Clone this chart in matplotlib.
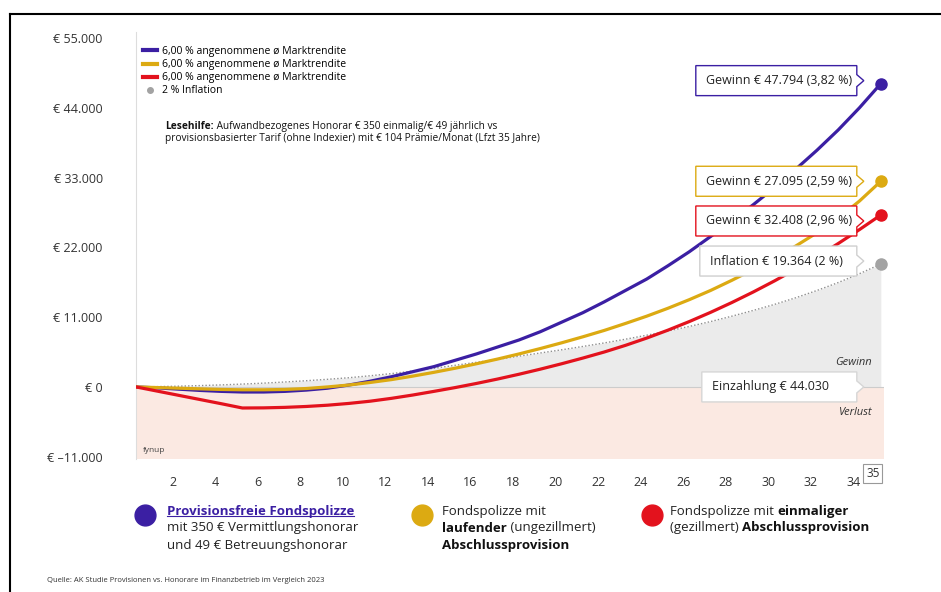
import numpy as np
import matplotlib
matplotlib.use("Agg")
import matplotlib.pyplot as plt
import matplotlib.transforms as mtransforms
from matplotlib.lines import Line2D
from matplotlib.patches import Polygon

plt.rcParams['font.family'] = ['Open Sans', 'DejaVu Sans']

# --- data ---
years = list(range(0, 36))
honorar = [0, -150, -350, -550, -700, -800, -800, -700, -500, -200, 300,
           900, 1600, 2400, 3200, 4200, 5200, 6300, 7400, 8700, 10200,
           11700, 13400, 15200, 17000, 19100, 21300, 23700, 26100, 28700, 31400,
           34300, 37300, 40500, 44000, 47794]
laufend = [0, -100, -200, -300, -400, -450, -450, -400, -250, 0, 300,
           700, 1150, 1700, 2300, 2950, 3650, 4400, 5200, 6050, 6950,
           7900, 8900, 10000, 11150, 12400, 13750, 15200, 16800, 18500, 20300,
           22200, 24300, 26600, 29300, 32408]
einmalig = [0, -660, -1320, -1980, -2640, -3320, -3300, -3220, -3080, -2880, -2600,
            -2250, -1800, -1280, -700, -100, 550, 1250, 2000, 2800, 3650,
            4550, 5500, 6550, 7700, 8950, 10300, 11750, 13300, 14950, 16700,
            18550, 20500, 22600, 24800, 27095]
inflation = [0, 50, 120, 210, 320, 450, 600, 780, 980, 1200, 1450,
             1760, 2100, 2500, 2940, 3410, 3880, 4350, 4850, 5350, 5850,
             6380, 6930, 7520, 8150, 8820, 9530, 10300, 11150, 12050, 13000,
             14050, 15200, 16450, 17850, 19364]

y_ticks = [-11000, 0, 11000, 22000, 33000, 44000, 55000]
y_labels = ['€ –11.000', '€ 0', '€ 11.000', '€ 22.000', '€ 33.000', '€ 44.000', '€ 55.000']
x_ticks = list(range(2, 35, 2))

legend_labels = ['6,00 % angenommene ø Marktrendite'] * 3 + ['2 % Inflation']
callout_texts = ['Gewinn € 47.794 (3,82 %)', 'Gewinn € 27.095 (2,59 %)',
                 'Gewinn € 32.408 (2,96 %)', 'Inflation € 19.364 (2 %)']
einzahlung_text = 'Einzahlung € 44.030'

PURPLE = '#3b1fa3'
YELLOW = '#dcaa12'
RED = '#e3121d'
GREY = '#a3a3a3'

W, H = 941, 592


def px(x, y):
    return x / W, 1 - y / H


fig = plt.figure(figsize=(W / 100, H / 100), dpi=100)
ax = fig.add_axes([136 / W, 0.2242, 748 / W, 0.7225])
ax.set_xlim(0, 35.15)
ax.set_ylim(-11400, 56000)

# background areas
ax.axhspan(-11400, 0, color='#fbe9e2', zorder=0, lw=0)
ax.fill_between(years, 0, inflation, color='#ebebeb', lw=0, zorder=1)
ax.axhline(0, color='#cccccc', lw=0.8, zorder=1)

ax.plot(years, inflation, color='#8f8f8f', lw=1.0, ls=(0, (1, 1.5)), zorder=2)
for s, c in [(honorar, PURPLE), (laufend, YELLOW), (einmalig, RED)]:
    ax.plot(years, s, color=c, lw=2.3, solid_capstyle='round', zorder=3)
    ax.plot(years[-1], s[-1], 'o', ms=8, color=c, zorder=4, clip_on=False)
ax.plot(years[-1], inflation[-1], 'o', ms=8, color=GREY, zorder=4, clip_on=False)

# axes styling
for side in ['top', 'right', 'bottom']:
    ax.spines[side].set_visible(False)
ax.spines['left'].set_color('#dddddd')
ax.spines['left'].set_linewidth(0.8)
ax.set_yticks(y_ticks, y_labels)
ax.tick_params(axis='y', length=0, pad=24, labelsize=9, labelcolor='#333333')
ax.set_xticks(x_ticks, [str(t) for t in x_ticks])
ax.tick_params(axis='x', length=0, pad=12, labelsize=9, labelcolor='#333333')
shift = mtransforms.ScaledTranslation(-6 / 100, 0, fig.dpi_scale_trans)
for lab in ax.get_xticklabels():
    lab.set_transform(lab.get_transform() + shift)
ax.annotate('35', xy=(35, 0), xycoords=('data', 'axes fraction'),
            xytext=(-8, -14), textcoords='offset pixels', ha='center', va='center',
            fontsize=8.5, color='#333333', annotation_clip=False,
            bbox=dict(boxstyle='square,pad=0.25', fc='white', ec='#999999', lw=0.8))

ax.text(0.984, 3780, 'Gewinn', transform=ax.get_yaxis_transform(), ha='right',
        va='center', fontsize=8, style='italic', color='#333333')
ax.text(0.984, -4100, 'Verlust', transform=ax.get_yaxis_transform(), ha='right',
        va='center', fontsize=8, style='italic', color='#333333')
ax.text(0.009, -9950, 'fynup', transform=ax.get_yaxis_transform(), ha='left',
        va='center', fontsize=6, color='#444444')


def callout(text, y, color, width, dy=0):
    tr = fig.dpi_scale_trans + mtransforms.ScaledTranslation(0.973, y, ax.get_yaxis_transform())
    v = np.array([(-7, 15), (-width, 15), (-width, -15), (-7, -15), (-7, -6),
                  (0, 0), (-7, 6)], dtype=float)
    v[:, 1] += dy
    ax.add_patch(Polygon(v / 100, closed=True, transform=tr, fc='white', ec=color,
                         lw=1.0, zorder=6, clip_on=False))
    ax.text((-width + 10) / 100, dy / 100, text, transform=tr, ha='left', va='center',
            fontsize=9, color='#222222', zorder=7)


callout(callout_texts[0], honorar[-1], PURPLE, 168, dy=3)
callout(callout_texts[1], laufend[-1], YELLOW, 168)
callout(callout_texts[2], einmalig[-1], RED, 168, dy=-6)
callout(callout_texts[3], inflation[-1], '#cfcfcf', 164, dy=3)
callout(einzahlung_text, 0, '#d6d6d6', 162)

# top legend
handles = [Line2D([], [], color=PURPLE, lw=3),
           Line2D([], [], color=YELLOW, lw=3),
           Line2D([], [], color=RED, lw=3),
           Line2D([], [], ls='', marker='o', ms=4, color=GREY)]
ax.legend(handles, legend_labels, loc='upper left', bbox_to_anchor=(0.010, 0.966),
          frameon=False, fontsize=7.5, handlelength=1.25, handletextpad=0.55,
          labelspacing=0.2, borderpad=0, borderaxespad=0)

# Lesehilfe
t = fig.text(*px(165, 127), 'Lesehilfe:', fontsize=7.3, weight='bold', va='center', color='#111111')
ax.annotate(' Aufwandbezogenes Honorar € 350 einmalig/€ 49 jährlich vs', xy=(1, 0),
            xycoords=t, va='bottom', ha='left', fontsize=7.3, color='#111111',
            annotation_clip=False)
fig.text(*px(165, 139), 'provisionsbasierter Tarif (ohne Indexier) mit € 104 Prämie/Monat (Lfzt 35 Jahre)',
         fontsize=7.3, va='center', color='#111111')

# bottom legend
for (cx, cy), c in zip([(145, 515), (422, 515), (652, 515)], [PURPLE, YELLOW, RED]):
    fig.add_artist(Line2D([cx / W], [1 - cy / H], marker='o', ms=15, color=c, ls=''))

FS = 9.5
t_p = fig.text(*px(167, 511), 'Provisionsfreie Fondspolizze', fontsize=FS, weight='bold',
               va='center', color=PURPLE)
fig.text(*px(167, 528), 'mit 350 € Vermittlungshonorar', fontsize=FS, va='center', color='#222222')
fig.text(*px(167, 545), 'und 49 € Betreuungshonorar', fontsize=FS, va='center', color='#222222')

fig.text(*px(442, 511), 'Fondspolizze mit', fontsize=FS, va='center', color='#222222')
t2 = fig.text(*px(442, 528), 'laufender', fontsize=FS, weight='bold', va='center', color='#111111')
ax.annotate(' (ungezillmert)', xy=(1, 0), xycoords=t2, va='bottom', ha='left',
            fontsize=FS, color='#222222', annotation_clip=False)
fig.text(*px(442, 545), 'Abschlussprovision', fontsize=FS, weight='bold', va='center', color='#111111')

t3 = fig.text(*px(670, 511), 'Fondspolizze mit ', fontsize=FS, va='center', color='#222222')
ax.annotate('einmaliger', xy=(1, 0), xycoords=t3, va='bottom', ha='left',
            fontsize=FS, weight='bold', color='#111111', annotation_clip=False)
t4 = fig.text(*px(670, 528), '(gezillmert) ', fontsize=FS, va='center', color='#222222')
ax.annotate('Abschlussprovision', xy=(1, 0), xycoords=t4, va='bottom', ha='left',
            fontsize=FS, weight='bold', color='#111111', annotation_clip=False)

fig.text(*px(47, 580), 'Quelle: AK Studie Provisionen vs. Honorare im Finanzbetrieb im Vergleich 2023',
         fontsize=5.5, va='center', color='#333333')

# frame of the original graphic
fig.add_artist(Line2D([10 / W, 1], [1 - 14 / H] * 2, color='black', lw=1.5))
fig.add_artist(Line2D([10 / W] * 2, [0, 1 - 14 / H], color='black', lw=1.5))

# underline of the purple heading
fig.canvas.draw()
bb = t_p.get_window_extent().transformed(fig.transFigure.inverted())
fig.add_artist(Line2D([bb.x0, bb.x1], [bb.y0 + 0.12 * bb.height] * 2, color=PURPLE, lw=0.8))

fig.savefig('out.png', dpi=100)
